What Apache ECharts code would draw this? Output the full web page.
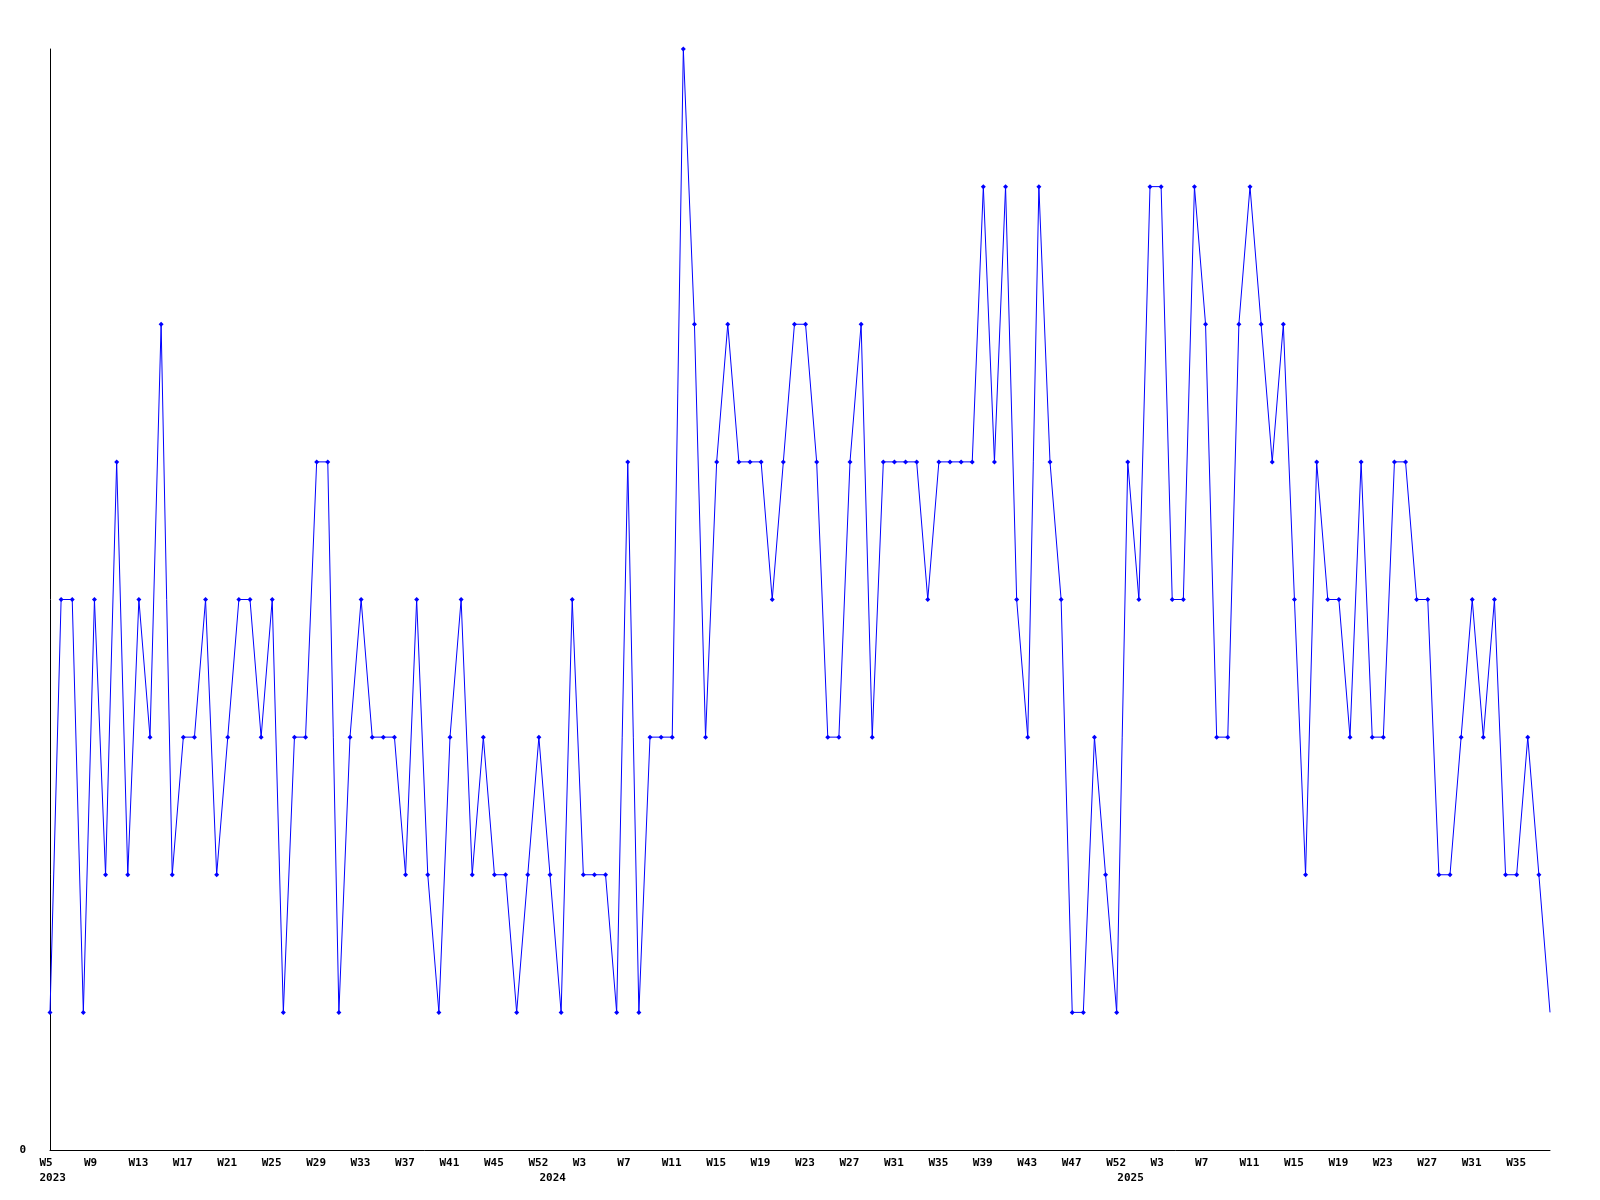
<!DOCTYPE html>
<html>
<head>
<meta charset="utf-8">
<script src="https://cdn.jsdelivr.net/npm/echarts@6/dist/echarts.min.js"></script>
<style>
html,body{margin:0;padding:0;background:#fff;}
#chart{width:1600px;height:1200px;}
</style>
</head>
<body>
<div id="chart"></div>
<script>
// Weekly values, one per point (2023 W5 onward)
const values = [
  1,4,4,1,4,2,5,2,4,3, 6,2,3,3,4,2,3,4,4,3,
  4,1,3,3,5,5,1,3,4,3, 3,3,2,4,2,1,3,4,2,3,
  2,2,1,2,3,2,1,4,2,2, 2,1,5,1,3,3,3,8,6,3,
  5,6,5,5,5,4,5,6,6,5, 3,3,5,6,3,5,5,5,5,4,
  5,5,5,5,7,5,7,4,3,7, 5,4,1,1,3,2,1,5,4,7,
  7,4,4,7,6,3,3,6,7,6, 5,6,4,2,5,4,4,3,5,3,
  3,5,5,4,4,2,2,3,4,3, 4,2,2,3,2,1
];
// Tick labels shown every 4th point
const tickLabels = ['W5','W9','W13','W17','W21','W25','W29','W33','W37','W41','W45','W52',
  'W3','W7','W11','W15','W19','W23','W27','W31','W35','W39','W43','W47','W52',
  'W3','W7','W11','W15','W19','W23','W27','W31','W35'];
// Year labels and the point index where each appears
const yearIdx = [0, 45, 97];
const years = ['2023', '2024', '2025'];

const categories = values.map((v, i) => String(i));
const font = {fontFamily: 'DejaVu Sans Mono', fontWeight: 'bold', fontSize: 11, color: '#000'};

const seriesData = values.map((v, i) => i === values.length - 1 ? {value: v, symbol: 'none'} : v);

const chart = echarts.init(document.getElementById('chart'), null, {renderer: 'canvas'});
chart.setOption({
  animation: false,
  backgroundColor: '#fff',
  grid: {left: 50, right: 50, top: 49, bottom: 50, containLabel: false},
  xAxis: [{
    type: 'category',
    data: categories,
    boundaryGap: false,
    axisLine: {show: true, lineStyle: {color: '#000', width: 1}},
    axisTick: {show: false},
    splitLine: {show: false},
    axisLabel: {
      interval: 3,
      margin: 7,
      formatter: (val, idx) => (idx % 4 === 0 && tickLabels[idx / 4] !== undefined) ? '{a|' + tickLabels[idx / 4] + '}' : '',
      rich: {a: Object.assign({width: 21, align: 'left', lineHeight: 12}, font)}
    }
  }, {
    type: 'category',
    data: categories,
    boundaryGap: false,
    position: 'bottom',
    offset: 15,
    axisLine: {show: false},
    axisTick: {show: false},
    splitLine: {show: false},
    axisLabel: {
      interval: (idx) => yearIdx.indexOf(idx) >= 0,
      margin: 7,
      formatter: (val, idx) => {
        const k = yearIdx.indexOf(idx);
        return k >= 0 ? '{a|' + years[k] + '}' : '';
      },
      rich: {a: Object.assign({width: 21, align: 'left', lineHeight: 12}, font)}
    }
  }],
  yAxis: {
    type: 'value',
    min: 0,
    max: 8,
    interval: 8,
    axisLine: {show: true, lineStyle: {color: '#000', width: 1}},
    axisTick: {show: false},
    splitLine: {show: false},
    axisLabel: Object.assign({margin: 24, formatter: v => v === 0 ? '0' : ''}, font)
  },
  series: [{
    type: 'line',
    xAxisIndex: 0,
    data: seriesData,
    symbol: 'diamond',
    symbolSize: 5,
    showAllSymbol: true,
    lineStyle: {color: '#0000ff', width: 1},
    itemStyle: {color: '#0000ff'},
    emphasis: {disabled: true}
  }]
});
</script>
</body>
</html>
